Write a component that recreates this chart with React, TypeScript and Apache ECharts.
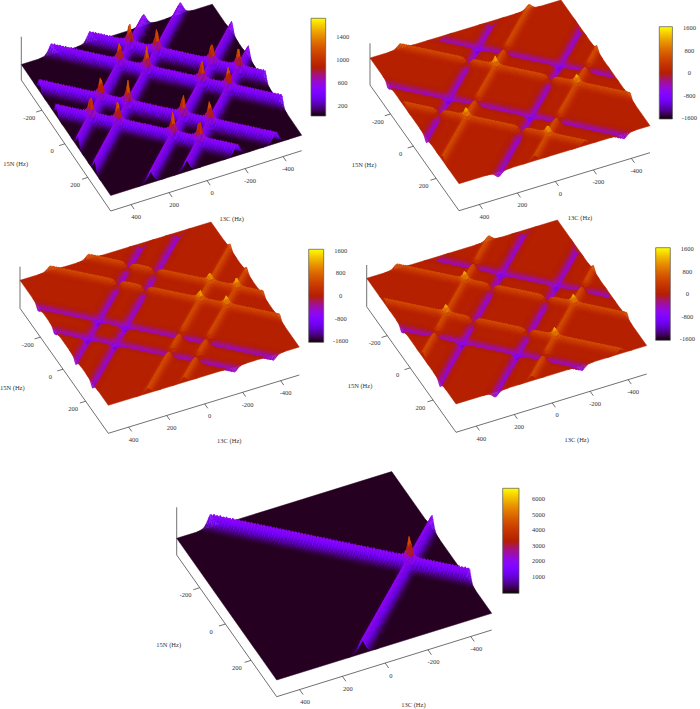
import React, { useEffect, useRef } from "react";
import * as echarts from "echarts";

// ---- values ----
const c13Ticks = [400, 200, 0, -200, -400];
const n15Ticks = [-200, 0, 200];
// ridge centres, in Hz: rows x + 1.395 y = c, columns x - 1.308 y = c
const rowCentres = [-384, -182, 196, 400];
const colCentres = [361, 168, -224, -414];
// ridge cross-section: distance from centre (Hz) -> relative height
const profileDist = [0, 6, 12, 18, 26, 36, 50, 66];
const profileRel = [1, 0.88, 0.68, 0.47, 0.26, 0.11, 0.04, 0];

const rows1 = [600, 600, 600, 600];
const cols1 = [600, 600, 600, 600];
const rows2 = [-650, 650, -650, 650];
const cols2 = [-650, 650, -650, 650];
const rows3 = [650, 650, -650, -650];
const cols3 = [-650, -650, 650, 650];
const rows4 = [-650, 650, 650, -650];
const cols4 = [650, -650, -650, 650];
const rows5 = [0, 2300, 0, 0];
const cols5 = [0, 0, 0, 2300];

const cbTicks1 = [200, 600, 1000, 1400];
const cbTicks2 = [-1600, -800, 0, 800, 1600];
const cbTicks5 = [1000, 2000, 3000, 4000, 5000, 6000];

// ---- layout ----
const X_HI = 507, X_SPAN = 1005, Y_LO = -380, Y_SPAN = 780;
const NX = 148, NY = 106;
const xGrid: number[] = [];
for (let i = 0; i <= NX; i++) xGrid.push(-498 + (X_SPAN * i) / NX);
const yGrid: number[] = [];
for (let j = 0; j <= NY; j++) yGrid.push(Y_LO + (Y_SPAN * j) / NY);

type Panel = {
  L: number[]; B: number[]; R: number[]; lift: number; zScale: number; base: number; top: number;
  rows: number[]; cols: number[]; extra: number;
  cbMin: number; cbMax: number; cbTicks: number[]; bar: number[]; margin: number;
  title15: number[]; title13: number[];
};
const panels: Panel[] = [
  { L: [21.3, 80], B: [110.7, 211], R: [301.7, 150.7], lift: 15.5, zScale: 0.02, base: 40, top: 36.7, rows: rows1, cols: cols1, extra: 350, cbMin: 7, cbMax: 1723, cbTicks: cbTicks1, bar: [311, 18.3, 14.7, 97.7], margin: 17, title15: [-95, -47.7], title13: [121, 7.7] },
  { L: [370, 85], B: [459, 210.7], R: [650, 152.7], lift: 27, zScale: 0.0085, base: 0, top: 43.3, rows: rows2, cols: cols2, extra: 300, cbMin: -1650, cbMax: 1630, cbTicks: cbTicks2, bar: [659.3, 26.7, 14.4, 92.3], margin: 17, title15: [-95, -46], title13: [121, 7] },
  { L: [20, 308.3], B: [108.3, 433.3], R: [299.3, 375], lift: 28, zScale: 0.0085, base: 0, top: 266.7, rows: rows3, cols: cols3, extra: 300, cbMin: -1650, cbMax: 1630, cbTicks: cbTicks2, bar: [308.7, 249.3, 15, 93], margin: 17, title15: [-96, -46], title13: [121, 7.4] },
  { L: [366.7, 306.7], B: [456, 432.3], R: [646.7, 374], lift: 28.4, zScale: 0.0085, base: 0, top: 265, rows: rows4, cols: cols4, extra: 300, cbMin: -1650, cbMax: 1630, cbTicks: cbTicks2, bar: [655.7, 247.7, 14.6, 92.6], margin: 17, title15: [-96, -46.6], title13: [120.7, 7] },
  { L: [176.7, 555], B: [276.7, 696.7], R: [491.7, 630], lift: 16.7, zScale: 0.0062, base: 40, top: 507.3, rows: rows5, cols: cols5, extra: 1500, cbMin: -100, cbMax: 6690, cbTicks: cbTicks5, bar: [502.7, 488.3, 16.3, 105], margin: 19.5, title15: [-108, -52], title13: [136.7, 7.3] },
];

const FONT = "Liberation Serif";
const TEXT = "#333";
const LINE = "#333";

function palette(v: number, p: Panel): string {
  const t = Math.min(1, Math.max(0, (v - p.cbMin) / (p.cbMax - p.cbMin)));
  return paletteAt(t);
}
function paletteAt(t: number): string {
  const r = Math.sqrt(t), g = t * t * t, b = Math.max(0, Math.sin(2 * Math.PI * t));
  return `rgb(${Math.round(r * 255)},${Math.round(g * 255)},${Math.round(b * 255)})`;
}
function rel(d: number): number {
  const a = Math.abs(d);
  for (let k = 1; k < profileDist.length; k++) {
    if (a < profileDist[k]) {
      const f = (a - profileDist[k - 1]) / (profileDist[k] - profileDist[k - 1]);
      return profileRel[k - 1] + f * (profileRel[k] - profileRel[k - 1]);
    }
  }
  return 0;
}
function surfaceZ(p: Panel): number[][] {
  return xGrid.map((x) =>
    yGrid.map((y) => {
      let z = p.base;
      const rr = p.rows.map((h, k) => ({ h, v: rel(x + 1.395 * y - rowCentres[k]) }));
      const cc = p.cols.map((h, k) => ({ h, v: rel(x - 1.308 * y - colCentres[k]) }));
      rr.forEach((q) => (z += q.h * q.v));
      cc.forEach((q) => (z += q.h * q.v));
      rr.forEach((a) => cc.forEach((b) => {
        if (a.h * b.h > 0) z += Math.sign(a.h) * p.extra * Math.pow(a.v * b.v, 4);
      }));
      return z;
    })
  );
}
function project(p: Panel, x: number, y: number, z: number): number[] {
  const s = (X_HI - x) / X_SPAN, t = (y - Y_LO) / Y_SPAN;
  return [
    p.L[0] + t * (p.B[0] - p.L[0]) + s * (p.R[0] - p.B[0]),
    p.L[1] + t * (p.B[1] - p.L[1]) + s * (p.R[1] - p.B[1]) - p.lift - (z - p.base) * p.zScale,
  ];
}

function buildOption() {
  const grids: any[] = [{ left: 0, top: 0, width: 700, height: 709 }];
  const xAxes: any[] = [{ type: "value", min: 0, max: 700, show: false, gridIndex: 0 }];
  const yAxes: any[] = [{ type: "value", min: 0, max: 709, inverse: true, show: false, gridIndex: 0 }];
  const series: any[] = [];

  panels.forEach((p) => {
    const zz = surfaceZ(p);
    const thresh = 0.09 / p.zScale;
    const cells: number[][] = [];
    for (let i = 0; i < NX; i++) {
      for (let j = 0; j < NY; j++) {
        const m = Math.max(
          Math.abs(zz[i][j] - p.base), Math.abs(zz[i + 1][j] - p.base),
          Math.abs(zz[i][j + 1] - p.base), Math.abs(zz[i + 1][j + 1] - p.base)
        );
        if (m > thresh) cells.push([i, j]);
      }
    }
    const coordOf = (api: any, q: number[]) => api.coord(q);

    // flat plane of the surface
    series.push({
      type: "custom", silent: true, progressive: 0, animation: false, data: [[0]], xAxisIndex: 0, yAxisIndex: 0,
      renderItem: (_: any, api: any) => ({
        type: "polygon",
        shape: {
          points: [
            project(p, X_HI, Y_LO, p.base), project(p, X_HI, Y_LO + Y_SPAN, p.base),
            project(p, X_HI - X_SPAN, Y_LO + Y_SPAN, p.base), project(p, X_HI - X_SPAN, Y_LO, p.base),
          ].map((q) => coordOf(api, q)),
        },
        style: { fill: palette(p.base, p), stroke: palette(p.base, p), lineWidth: 0.5 },
      }),
    });
    // surface cells, drawn from the far corner to the near corner
    series.push({
      type: "custom", silent: true, progressive: 0, animation: false, data: cells, xAxisIndex: 0, yAxisIndex: 0,
      renderItem: (_: any, api: any) => {
        const i = api.value(0), j = api.value(1);
        const a = zz[i][j], b = zz[i + 1][j], c = zz[i + 1][j + 1], d = zz[i][j + 1];
        const col = palette((a + b + c + d) / 4, p);
        return {
          type: "polygon",
          shape: {
            points: [
              project(p, xGrid[i], yGrid[j], a), project(p, xGrid[i + 1], yGrid[j], b),
              project(p, xGrid[i + 1], yGrid[j + 1], c), project(p, xGrid[i], yGrid[j + 1], d),
            ].map((q) => coordOf(api, q)),
          },
          style: { fill: col, stroke: col, lineWidth: 0.3 },
        };
      },
    });
    // box axes, ticks and their labels
    const sx = [p.R[0] - p.B[0], p.R[1] - p.B[1]];
    const ty = [p.B[0] - p.L[0], p.B[1] - p.L[1]];
    const scale = (p.B[0] - p.L[0]) / 89.4;
    const items: any[] = [];
    const seg = (a: number[], b: number[]) => items.push({ k: "l", a, b });
    const txt = (q: number[], s: string) => items.push({ k: "t", q, s });
    seg(p.L, p.B);
    seg(p.B, p.R);
    seg(p.L, [p.L[0], p.top]);
    n15Ticks.forEach((v) => {
      const t = (v - Y_LO) / Y_SPAN;
      const e = [p.L[0] + t * ty[0], p.L[1] + t * ty[1]];
      seg(e, [e[0] - 0.03 * sx[0], e[1] - 0.03 * sx[1]]);
      txt([e[0] - 12.7 * scale, e[1] + 7], String(v));
    });
    c13Ticks.forEach((v) => {
      const s = (X_HI - v) / X_SPAN;
      const e = [p.B[0] + s * sx[0], p.B[1] + s * sx[1]];
      seg(e, [e[0] + 0.035 * ty[0], e[1] + 0.035 * ty[1]]);
      txt([e[0] + 5 * scale, e[1] + 12], String(v));
    });
    txt([p.B[0] + p.title15[0], p.B[1] + p.title15[1]], "15N (Hz)");
    txt([p.B[0] + p.title13[0], p.B[1] + p.title13[1]], "13C (Hz)");
    series.push({
      type: "custom", silent: true, progressive: 0, animation: false, data: items.map((_, n) => [n]), xAxisIndex: 0, yAxisIndex: 0, z: 3,
      renderItem: (params: any, api: any) => {
        const it = items[params.dataIndex];
        if (it.k === "l") {
          const a = api.coord(it.a), b = api.coord(it.b);
          return { type: "line", shape: { x1: a[0], y1: a[1], x2: b[0], y2: b[1] }, style: { stroke: LINE, lineWidth: 0.7 } };
        }
        const q = api.coord(it.q);
        return { type: "text", style: { x: q[0], y: q[1], text: it.s, fontSize: 6.5, fontFamily: FONT, fill: TEXT, align: "center", verticalAlign: "middle" } };
      },
    });

    // colour bar
    const gi = grids.length;
    grids.push({ left: p.bar[0], top: p.bar[1], width: p.bar[2], height: p.bar[3] });
    xAxes.push({ type: "value", min: 0, max: 1, show: false, gridIndex: gi });
    yAxes.push({
      type: "value", gridIndex: gi, min: p.cbMin, max: p.cbMax, position: "right",
      splitLine: { show: false },
      axisLine: { show: false },
      axisTick: { show: true, inside: false, length: 5, customValues: p.cbTicks, lineStyle: { color: "#666", width: 0.7 } },
      axisLabel: { show: true, customValues: p.cbTicks, margin: p.margin, align: "center", fontSize: 6.5, fontFamily: FONT, color: TEXT, formatter: (v: number) => String(v) },
    });
    const stops = Array.from({ length: 41 }, (_, n) => ({ offset: n / 40, color: paletteAt(1 - n / 40) }));
    series.push({
      type: "custom", silent: true, progressive: 0, animation: false, data: [[0, p.cbMin, 1, p.cbMax]], xAxisIndex: gi, yAxisIndex: gi,
      renderItem: (_: any, api: any) => {
        const a = api.coord([0, p.cbMax]), b = api.coord([1, p.cbMin]);
        return {
          type: "rect",
          shape: { x: a[0], y: a[1], width: b[0] - a[0], height: b[1] - a[1] },
          style: { fill: new echarts.graphic.LinearGradient(0, 0, 0, 1, stops), stroke: "#555", lineWidth: 0.7 },
        };
      },
    });
  });

  return { animation: false, backgroundColor: "#fff", grid: grids, xAxis: xAxes, yAxis: yAxes, series };
}

export default function App() {
  const ref = useRef<HTMLDivElement>(null);
  useEffect(() => {
    document.body.style.margin = "0";
    const chart = echarts.init(ref.current!, undefined, { renderer: "svg" });
    chart.setOption(buildOption());
    return () => chart.dispose();
  }, []);
  return <div ref={ref} style={{ width: 700, height: 709 }} />;
}
